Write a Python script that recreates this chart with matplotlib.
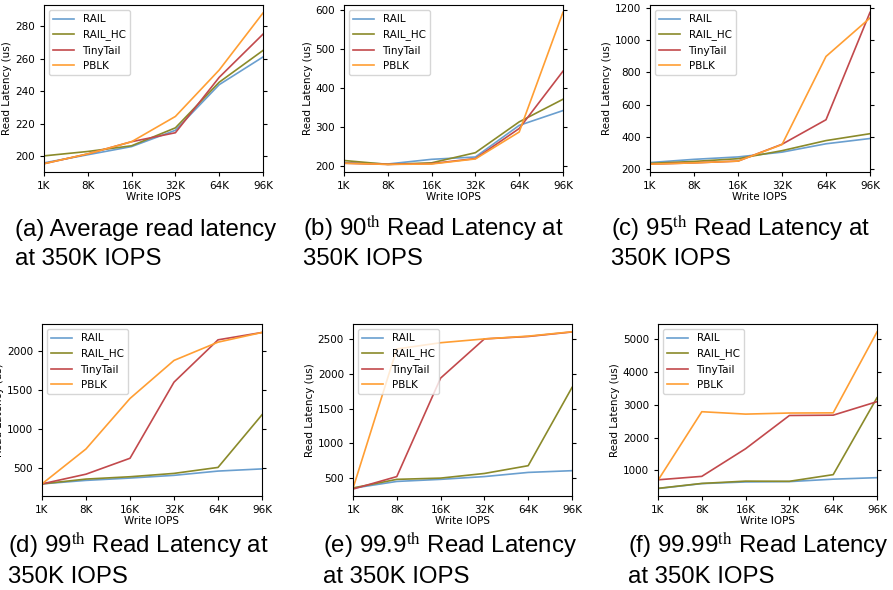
import matplotlib
matplotlib.use("Agg")
import matplotlib.pyplot as plt

plt.rcParams['mathtext.fontset'] = 'stix'

# ---------------------------------------------------------
# data (us)
# ---------------------------------------------------------
write_iops = ["1K", "8K", "16K", "32K", "64K", "96K"]
series_names = ["RAIL", "RAIL_HC", "TinyTail", "PBLK"]

avg_rail = [196, 201, 206, 216, 244, 261]
avg_rail_hc = [200.3, 203, 206.5, 217.5, 245.5, 265]
avg_tinytail = [195.5, 201.5, 209, 214.5, 248.5, 275]
avg_pblk = [195.5, 201.5, 209, 224.5, 253, 288]

p90_rail = [210, 206, 218, 224, 305, 343]
p90_rail_hc = [215, 205, 209, 235, 314, 372]
p90_tinytail = [208, 205, 207, 220, 297, 444]
p90_pblk = [208, 205, 206, 219, 288, 595]

p95_rail = [238, 258, 273, 303, 355, 388]
p95_rail_hc = [233, 245, 262, 312, 375, 418]
p95_tinytail = [228, 236, 247, 352, 505, 1175]
p95_pblk = [228, 236, 247, 350, 900, 1140]

p99_rail = [290, 335, 365, 400, 455, 483]
p99_rail_hc = [290, 352, 382, 425, 502, 1180]
p99_tinytail = [290, 415, 620, 1600, 2145, 2240]
p99_pblk = [290, 740, 1390, 1880, 2115, 2240]

p999_rail = [352, 450, 480, 520, 580, 605]
p999_rail_hc = [356, 480, 498, 565, 677, 1805]
p999_tinytail = [340, 520, 1940, 2505, 2540, 2605]
p999_pblk = [350, 2360, 2450, 2505, 2545, 2608]

p9999_rail = [450, 600, 650, 660, 735, 780]
p9999_rail_hc = [455, 605, 675, 670, 872, 3210]
p9999_tinytail = [715, 820, 1660, 2670, 2680, 3090]
p9999_pblk = [700, 2785, 2712, 2745, 2750, 5210]

caption_line1 = [
    "(a) Average read latency",
    "(b) 90$^{\\rm th}$ Read Latency at",
    "(c) 95$^{\\rm th}$ Read Latency at",
    "(d) 99$^{\\rm th}$ Read Latency at",
    "(e) 99.9$^{\\rm th}$ Read Latency",
    "(f) 99.99$^{\\rm th}$ Read Latency",
]
caption_line2 = ["at 350K IOPS", "350K IOPS", "350K IOPS",
                 "350K IOPS", "at 350K IOPS", "at 350K IOPS"]

panels = [
    [avg_rail, avg_rail_hc, avg_tinytail, avg_pblk],
    [p90_rail, p90_rail_hc, p90_tinytail, p90_pblk],
    [p95_rail, p95_rail_hc, p95_tinytail, p95_pblk],
    [p99_rail, p99_rail_hc, p99_tinytail, p99_pblk],
    [p999_rail, p999_rail_hc, p999_tinytail, p999_pblk],
    [p9999_rail, p9999_rail_hc, p9999_tinytail, p9999_pblk],
]

colors = ["#6a9fcf", "#8a8a2a", "#c2494c", "#ff9e33"]

# ---------------------------------------------------------
# layout in pixels: left, right, top, bottom
# ---------------------------------------------------------
W, H = 893, 590
boxes = [
    (44, 263, 5, 172), (344, 563, 5, 172), (650, 870, 5, 172),
    (42, 262, 324, 496), (353, 572, 324, 496), (658, 877, 324, 496),
]
ylims = [(190.4, 292.9), (185.5, 613.6), (179, 1221),
         (134, 2349), (240, 2720), (223, 5451)]
# x of caption start, baselines of the two lines
caption_pos = [(15, 236, 265), (303, 236, 265), (611, 236, 265),
               (8, 553, 583), (323, 553, 583), (628, 553, 583)]

fig = plt.figure(figsize=(W / 100, H / 100), dpi=100)

for i, data in enumerate(panels):
    l, r, t, b = boxes[i]
    ax = fig.add_axes([l / W, 1 - b / H, (r - l) / W, (b - t) / H])
    x = range(len(write_iops))
    for name, vals, c in zip(series_names, data, colors):
        ax.plot(x, vals, color=c, linewidth=1.2, label=name)
    ax.set_xlim(0, len(write_iops) - 1)
    ax.set_ylim(*ylims[i])
    ax.set_xticks(list(x))
    ax.set_xticklabels(write_iops)
    ax.tick_params(labelsize=7.5, right=True, length=3)
    ax.set_xlabel("Write IOPS", fontsize=7.5, labelpad=1)
    ax.set_ylabel("Read Latency (us)", fontsize=7.5, labelpad=2)
    ax.legend(loc="upper left", fontsize=7.5)

    cx, y1, y2 = caption_pos[i]
    fig.text(cx / W, 1 - y1 / H, caption_line1[i], fontsize=17.3,
             family="Liberation Sans", va="baseline", ha="left")
    fig.text(cx / W, 1 - y2 / H, caption_line2[i], fontsize=17.3,
             family="Liberation Sans", va="baseline", ha="left")

fig.savefig("out.png", dpi=100)
